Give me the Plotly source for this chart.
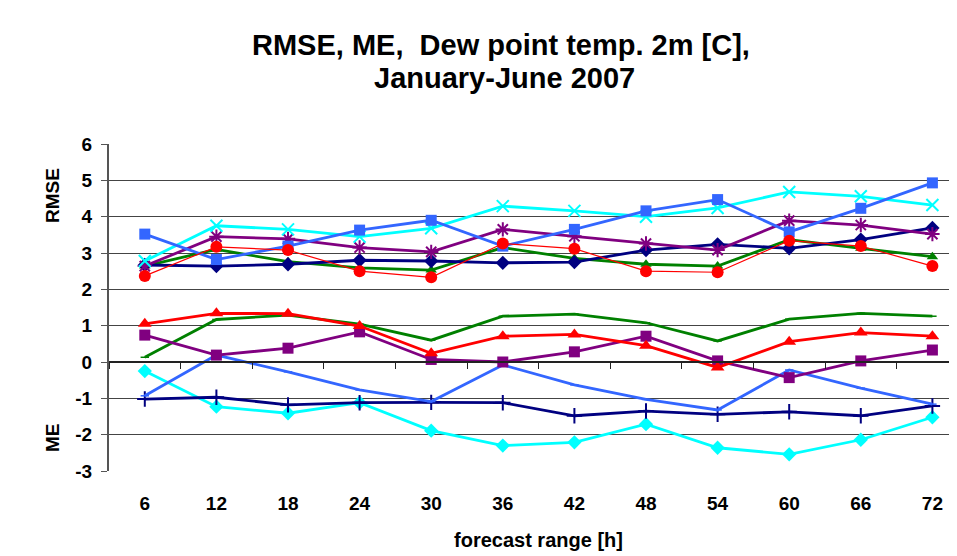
import plotly.graph_objects as go

categories = ["6", "12", "18", "24", "30", "36", "42", "48", "54", "60", "66", "72"]

# RMSE series
rmse_blue_sq = [3.52, 2.82, 3.19, 3.63, 3.90, 3.19, 3.65, 4.16, 4.47, 3.58, 4.23, 4.93]
rmse_cyan_x = [2.78, 3.75, 3.65, 3.45, 3.68, 4.29, 4.16, 4.00, 4.24, 4.68, 4.56, 4.32]
rmse_purple_ast = [2.64, 3.45, 3.39, 3.15, 3.03, 3.65, 3.46, 3.26, 3.08, 3.89, 3.77, 3.52]
rmse_navy_dia = [2.67, 2.64, 2.69, 2.80, 2.78, 2.73, 2.75, 3.08, 3.24, 3.13, 3.37, 3.69]
rmse_green_tri = [2.64, 3.10, 2.76, 2.59, 2.53, 3.15, 2.85, 2.69, 2.64, 3.37, 3.13, 2.90]
rmse_red_circ = [2.37, 3.17, 3.08, 2.50, 2.33, 3.26, 3.12, 2.50, 2.47, 3.34, 3.19, 2.64]

# ME series
me_red_tri = [1.05, 1.34, 1.33, 0.99, 0.24, 0.71, 0.76, 0.45, -0.15, 0.56, 0.81, 0.71]
me_green = [0.13, 1.17, 1.29, 1.04, 0.60, 1.26, 1.32, 1.08, 0.58, 1.18, 1.34, 1.26]
me_purple_sq = [0.74, 0.19, 0.38, 0.83, 0.07, 0.00, 0.28, 0.71, 0.03, -0.43, 0.03, 0.33]
me_blue = [-0.93, 0.19, -0.27, -0.77, -1.09, -0.08, -0.63, -1.03, -1.32, -0.22, -0.72, -1.16]
me_navy_plus = [-1.02, -0.97, -1.18, -1.12, -1.11, -1.12, -1.48, -1.35, -1.44, -1.37, -1.48, -1.21]
me_cyan_dia = [-0.25, -1.23, -1.41, -1.12, -1.89, -2.30, -2.21, -1.71, -2.36, -2.54, -2.14, -1.52]

y_ticks = [6, 5, 4, 3, 2, 1, 0, -1, -2, -3]

title_line1 = "RMSE, ME,  Dew point temp. 2m [C],"
title_line2 = "January-June 2007"

BLUE = "#3366FF"
CYAN = "#00FFFF"
PURPLE = "#800080"
NAVY = "#000080"
GREEN = "#008000"
RED = "#FF0000"

FONT = "Liberation Sans, Arial, sans-serif"

# page geometry (browser body margin of 8px shifts the figure)
OFF = 8
W, H = 957 - OFF, 556 - OFF
PL, PR, PT, PB = 109, 957, 144, 471  # plot area in page pixels
PW, PH = PR - PL, PB - PT


def px_x(p):
    return (p - PL) / PW


def px_y(p):
    return (PB - p) / PH


fig = go.Figure()


def add(y, color, symbol, size, lw=2.8, mlw=0, mcolor=None):
    fig.add_trace(go.Scatter(
        x=categories, y=y, mode="lines+markers",
        line=dict(color=color, width=lw),
        marker=dict(symbol=symbol, size=size, color=mcolor or color,
                    line=dict(color=mcolor or color, width=mlw)),
        showlegend=False, hoverinfo="x+y",
    ))


# ME
add(me_cyan_dia, CYAN, "diamond", 11)
add(me_navy_plus, NAVY, "cross-thin-open", 11, mlw=2)
add(me_blue, BLUE, "line-ew-open", 6, mlw=1.5)
add(me_green, GREEN, "line-ew-open", 6, mlw=1.5)
add(me_purple_sq, PURPLE, "square", 11)
add(me_red_tri, RED, "triangle-up", 12)
# RMSE
add(rmse_green_tri, GREEN, "triangle-up", 10)
add(rmse_navy_dia, NAVY, "diamond", 11)
add(rmse_purple_ast, PURPLE, "asterisk-open", 12, mlw=2)
add(rmse_cyan_x, CYAN, "x-thin-open", 12, mlw=2)
add(rmse_blue_sq, BLUE, "square", 11)
add(rmse_red_circ, RED, "circle", 12, lw=1.2)

# dummy trace on the zero-crossing category axis
fig.add_trace(go.Scatter(x=[None], y=[None], xaxis="x2", showlegend=False, hoverinfo="skip"))

XR = [-0.5, -0.5 + PW / 71.6]

fig.update_layout(
    width=W, height=H,
    margin=dict(l=PL - OFF, r=0, t=PT - OFF, b=H - (PB - OFF), pad=0),
    paper_bgcolor="white", plot_bgcolor="white",
    font=dict(family=FONT, color="black"),
    xaxis=dict(
        type="category", range=XR,
        showgrid=False, showline=False, zeroline=False, ticks="",
        tickfont=dict(size=19, family=FONT, weight="bold"),
        ticklabelstandoff=19,
    ),
    xaxis2=dict(
        overlaying="x", anchor="free", position=1/3, type="linear",
        range=XR, showgrid=False, zeroline=False,
        showline=True, linecolor="#222", linewidth=1.5,
        ticks="outside", ticklen=6, tickcolor="#222", tickwidth=1.2,
        tickvals=[i + 0.5 for i in range(-1, 12)], showticklabels=False,
    ),
    yaxis=dict(
        range=[-3, 6], tickvals=y_ticks, ticktext=[str(v) for v in y_ticks],
        showgrid=True, gridcolor="#444", gridwidth=1.2, zeroline=False,
        showline=True, linecolor="#555", linewidth=2,
        ticks="outside", ticklen=6, tickcolor="#555", tickwidth=1.2,
        tickfont=dict(size=19, family=FONT, weight="bold"),
        ticklabelstandoff=5,
    ),
    annotations=[
        dict(text=title_line1, x=px_x(501), y=px_y(45), xref="paper", yref="paper",
             showarrow=False, font=dict(size=29, family=FONT, weight="bold"),
             xanchor="center", yanchor="middle"),
        dict(text=title_line2, x=px_x(504), y=px_y(78), xref="paper", yref="paper",
             showarrow=False, font=dict(size=29, family=FONT, weight="bold"),
             xanchor="center", yanchor="middle"),
        dict(text="forecast range [h]", x=px_x(538), y=px_y(540), xref="paper", yref="paper",
             showarrow=False, font=dict(size=20, family=FONT, weight="bold"),
             xanchor="center", yanchor="middle"),
        dict(text="RMSE", x=px_x(52), y=px_y(196), xref="paper", yref="paper",
             showarrow=False, textangle=-90, font=dict(size=19, family=FONT, weight="bold"),
             xanchor="center", yanchor="middle"),
        dict(text="ME", x=px_x(52), y=px_y(438), xref="paper", yref="paper",
             showarrow=False, textangle=-90, font=dict(size=19, family=FONT, weight="bold"),
             xanchor="center", yanchor="middle"),
    ],
)

fig.write_html("out.html")
